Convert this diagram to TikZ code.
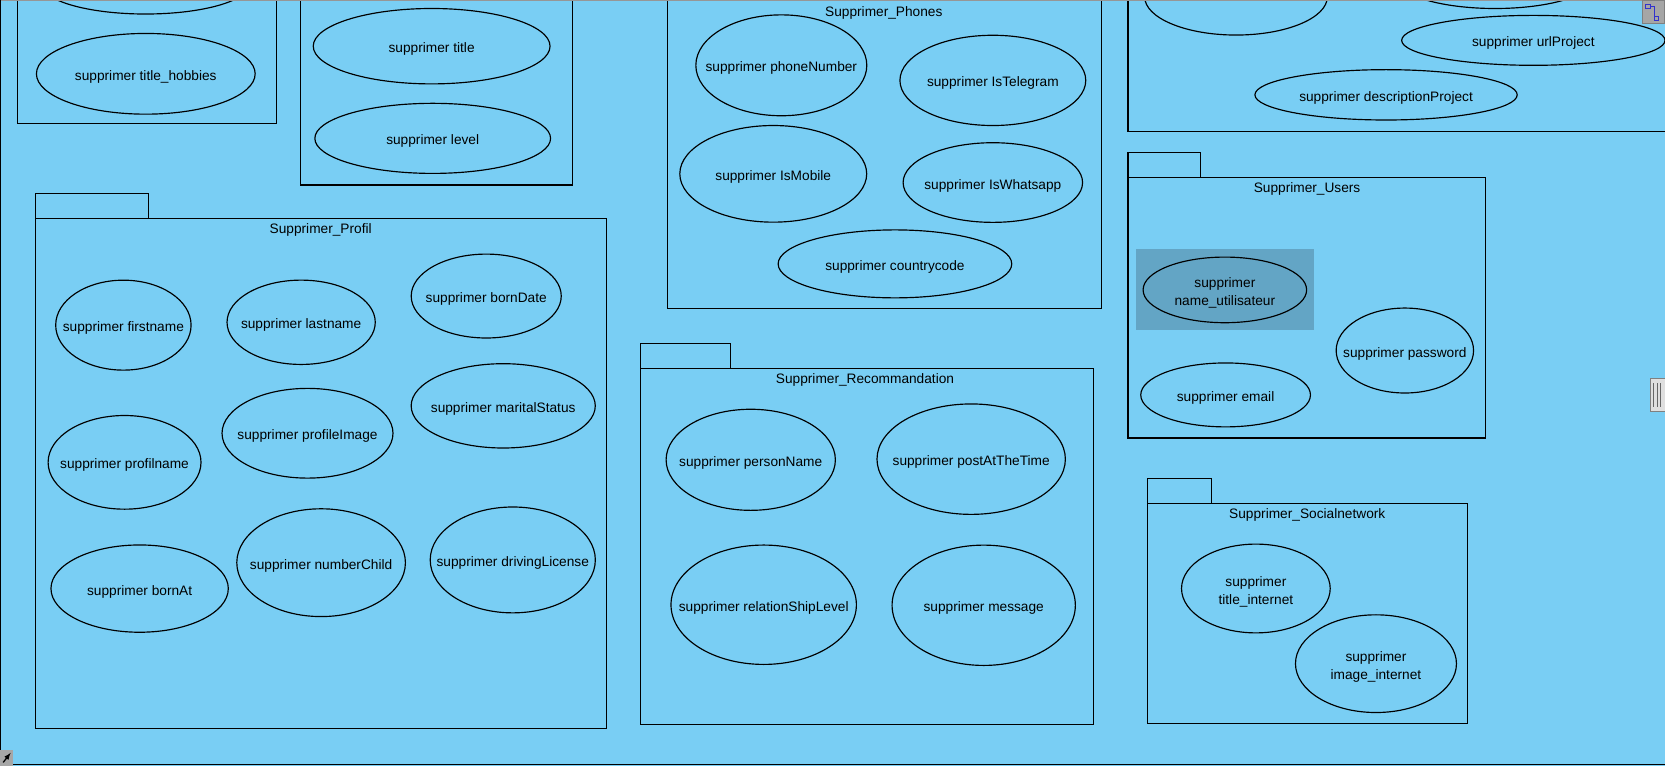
\documentclass[tikz,border=0pt]{standalone}
\usepackage{fontspec}
\setmainfont{Liberation Sans}
\usetikzlibrary{shapes.geometric}

\definecolor{canvas}{RGB}{121,206,244}
\definecolor{selected}{RGB}{99,165,197}
\definecolor{edgegrey}{RGB}{150,150,150}
\newcommand{\ut}[1]{\makebox[0pt]{\raisebox{-6.2pt}[0pt][0pt]{#1}}}
\newcommand{\uu}[2]{\makebox[0pt]{\raisebox{-6.2pt}[0pt][0pt]{\begin{tabular}{@{}c@{}}#1\\#2\end{tabular}}}}

\begin{document}
\begin{tikzpicture}[x=1pt, y=-1pt, line width=1.1pt,
    every node/.style={font=\fontsize{12.9}{17}\selectfont},
    uc/.style args={#1/#2}{draw, ellipse, inner sep=0pt, minimum width=#1pt, minimum height=#2pt},
    pkgtitle/.style={inner sep=0pt}]
    \useasboundingbox (0,0) rectangle (1568,721);
    \fill[canvas] (0,0) rectangle (1568,721);
    \clip (0,0) rectangle (1568,721);

    % packages cut by the top edge
    \draw (16.2,-20) rectangle (260.2,116.1); % hobbies
    \draw (282.9,-20) rectangle (538.8,174.2); % title / level
    \draw (628.4,-20) rectangle (1037.4,290.4); % phones
    \draw (1062.3,-20) rectangle (1600,124); % projects

    % packages with a tab
    \draw (33.2,182) rectangle (139.8,205.5);
    \draw (33.2,205.5) rectangle (571,686); % profil
    \draw (603,323.3) rectangle (687.8,346.9);
    \draw (603,346.9) rectangle (1029.6,682.1); % recommandation
    \draw (1062.2,143.4) rectangle (1130.6,166.9);
    \draw (1062.2,166.9) rectangle (1398.7,412.4); % users
    \draw (1080.6,450.4) rectangle (1141.1,473.9);
    \draw (1080.6,473.9) rectangle (1382,681.4); % socialnetwork

    \fill[selected] (1069.8,234.6) rectangle (1237,311.1); % selection

    % titles
    \node[pkgtitle] (tPhones) at (832.3,12.3) {Supprimer\_Phones};
    \node[pkgtitle] (tProfil) at (302,216.8) {Supprimer\_Profil};
    \node[pkgtitle] (tRecommandation) at (814.6,357.6) {Supprimer\_Recommandation};
    \node[pkgtitle] (tUsers) at (1230.9,177.6) {Supprimer\_Users};
    \node[pkgtitle] (tSocial) at (1231.1,484.5) {Supprimer\_Socialnetwork};

    % hobbies, title, level
    \node[uc=196/56.4] (hobTop) at (137,-15) {};
    \node[uc=206/76] (titleHobbies) at (137.3,69.5) {\ut{supprimer title\_hobbies}};
    \node[uc=223/71] (title) at (406.5,43.5) {\ut{supprimer title}};
    \node[uc=222/66] (level) at (407.5,130.3) {\ut{supprimer level}};

    % phones
    \node[uc=161/95] (phoneNumber) at (735.8,61.5) {\ut{supprimer phoneNumber}};
    \node[uc=175/85] (isTelegram) at (935,75.7) {\ut{supprimer IsTelegram}};
    \node[uc=176/91] (isMobile) at (728.2,163.7) {\ut{supprimer IsMobile}};
    \node[uc=169/75] (isWhatsapp) at (935,171.9) {\ut{supprimer IsWhatsapp}};
    \node[uc=220/64] (countrycode) at (842.8,248.5) {\ut{supprimer countrycode}};

    % projects
    \node[uc=172/72] (projA) at (1164,-3) {};
    \node[uc=186/56] (projB) at (1408,-20) {};
    \node[uc=248/47] (urlProject) at (1444,38) {\ut{supprimer urlProject}};
    \node[uc=247/47.4] (descriptionProject) at (1305.3,89.3) {\ut{supprimer descriptionProject}};

    % profil
    \node[uc=127.5/84.7] (firstname) at (116.2,306.2) {\ut{supprimer firstname}};
    \node[uc=139.6/79.4] (lastname) at (283.6,303.5) {\ut{supprimer lastname}};
    \node[uc=141.3/79] (bornDate) at (457.9,278.8) {\ut{supprimer bornDate}};
    \node[uc=173.4/79.4] (maritalStatus) at (473.9,382.2) {\ut{supprimer maritalStatus}};
    \node[uc=161/84.5] (profileImage) at (289.6,408) {\ut{supprimer profileImage}};
    \node[uc=144/88.2] (profilname) at (117.3,435.4) {\ut{supprimer profilname}};
    \node[uc=167/82.2] (bornAt) at (131.5,554.3) {\ut{supprimer bornAt}};
    \node[uc=158.8/101.5] (numberChild) at (302.4,529.9) {\ut{supprimer numberChild}};
    \node[uc=155.5/99.7] (drivingLicense) at (482.9,527.3) {\ut{supprimer drivingLicense}};

    % recommandation
    \node[uc=159.4/95.2] (personName) at (707,433) {\ut{supprimer personName}};
    \node[uc=177.4/104] (postAtTheTime) at (914.6,432.4) {\ut{supprimer postAtTheTime}};
    \node[uc=174.6/112.4] (relationShipLevel) at (719.2,569.5) {\ut{supprimer relationShipLevel}};
    \node[uc=172.6/113.3] (message) at (926.4,570) {\ut{supprimer message}};

    % users
    \node[uc=154/61.8] (nameUtilisateur) at (1153.5,273) {\uu{supprimer}{name\_utilisateur}};
    \node[uc=129.4/80] (password) at (1323,330.1) {\ut{supprimer password}};
    \node[uc=159.8/60.2] (email) at (1154.2,371.9) {\ut{supprimer email}};

    % socialnetwork
    \node[uc=140/83.6] (titleInternet) at (1182.7,554.2) {\uu{supprimer}{title\_internet}};
    \node[uc=151.6/92] (imageInternet) at (1295.8,625) {\uu{supprimer}{image\_internet}};

    % frame and window handles
    \draw[edgegrey] (0,0.6) -- (1568,0.6);
    \draw (0.8,0) -- (0.8,721);
    \draw (0,719.6) -- (1568,719.6);
    \draw[line width=0.6pt, draw=gray, fill=gray!70] (1547,0.5) rectangle (1567.5,21.9);
    \draw[line width=0.8pt, blue!60!gray] (1550,4) rectangle (1554,8) (1554,6) -- (1558,6) -- (1558,16) (1558,15) rectangle (1562,19);
    \draw[line width=0.6pt, draw=gray, fill=gray!25] (1553.8,356.6) rectangle (1568,387.3);
    \foreach \hx in {1557.5,1560.5,1563.5}
        \draw[line width=0.8pt, gray!80!black] (\hx,361) -- (\hx,383);
    \fill[gray!70] (0,706) rectangle (12,721);
    \draw[-latex, line width=1.2pt] (3,718) -- (10,709);
\end{tikzpicture}
\end{document}
